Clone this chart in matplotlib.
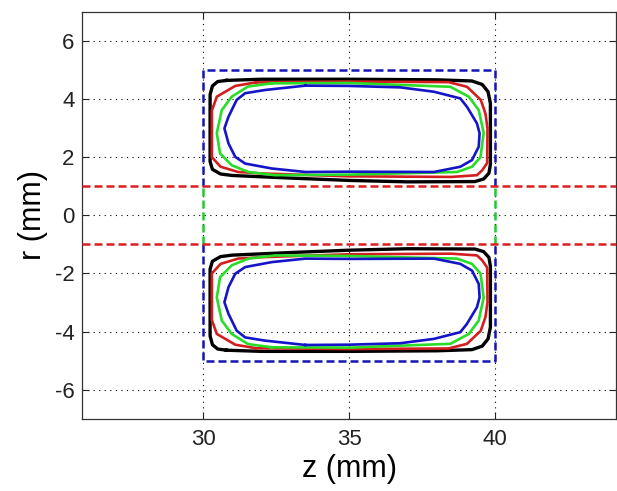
import matplotlib
matplotlib.use("Agg")
import matplotlib.pyplot as plt
import numpy as np

plt.rcParams['font.family'] = ['Liberation Sans', 'DejaVu Sans']
plt.rcParams['axes.unicode_minus'] = False

# upper half outlines (z, r) in mm; the lower half is the mirror image r -> -r
black_z = [30.80, 32.0, 35.0, 38.0, 39.20, 39.55, 39.75, 39.83, 39.83, 39.78, 39.60, 39.30, 37.0, 35.0, 33.0, 31.0, 30.60, 30.32, 30.24, 30.24, 30.32, 30.50, 30.80]
black_r = [4.64, 4.68, 4.68, 4.66, 4.62, 4.50, 4.25, 3.85, 1.75, 1.45, 1.25, 1.16, 1.15, 1.20, 1.28, 1.37, 1.42, 1.58, 1.85, 4.15, 4.45, 4.60, 4.64]

red_z = [31.80, 35.0, 38.40, 39.03, 39.50, 39.66, 39.73, 39.72, 39.55, 39.37, 38.50, 35.0, 32.00, 31.20, 30.60, 30.30, 30.30, 30.47, 31.10, 31.80]
red_r = [4.57, 4.60, 4.58, 4.42, 3.97, 3.50, 3.00, 1.80, 1.55, 1.38, 1.32, 1.34, 1.44, 1.49, 1.67, 2.00, 3.60, 4.08, 4.45, 4.57]

green_z = [32.35, 35.0, 38.46, 39.09, 39.43, 39.60, 39.49, 39.20, 38.69, 35.0, 32.47, 31.55, 30.98, 30.58, 30.47, 30.64, 30.98, 31.54, 32.35]
green_r = [4.54, 4.55, 4.42, 4.08, 3.62, 2.83, 2.00, 1.67, 1.49, 1.40, 1.38, 1.49, 1.72, 2.13, 2.83, 3.62, 4.08, 4.43, 4.54]

blue_z = [33.50, 35.0, 36.75, 37.90, 38.80, 39.03, 39.37, 39.46, 39.43, 39.20, 38.80, 37.90, 35.0, 33.50, 32.35, 31.44, 31.10, 30.87, 30.73, 30.87, 31.15, 31.44, 32.12, 33.50]
blue_r = [4.46, 4.45, 4.40, 4.25, 4.02, 3.73, 3.16, 2.82, 2.36, 1.90, 1.67, 1.49, 1.50, 1.49, 1.61, 1.78, 2.01, 2.47, 2.99, 3.39, 3.97, 4.20, 4.31, 4.46]

# electrode box and aperture limits
box_z = [30.0, 40.0]
box_r = [1.0, 5.0]
aperture_r = 1.0

fig = plt.figure(figsize=(6.17, 4.91), dpi=100)
ax = fig.add_axes([0.133, 0.147, 0.866, 0.829])

dash = (0, (3.2, 1.6))

# blue dashed box, split at the aperture
z0, z1 = box_z
ra, rb = box_r
for s in (1, -1):
    ax.plot([z0, z0, z1, z1], [s * ra, s * rb, s * rb, s * ra], color='#1414b4', lw=1.8, linestyle=dash, zorder=3)
# green dashed aperture sides
for z in box_z:
    ax.plot([z, z], [-aperture_r, aperture_r], color='#22c832', lw=1.8, linestyle=dash, zorder=3)
# red dashed aperture radius
for s in (1, -1):
    ax.axhline(s * aperture_r, color='#dc1e1e', lw=1.8, linestyle=dash, zorder=3)

curves = [(black_z, black_r, 'k', 2.4),
          (red_z, red_r, '#d21e1e', 1.9),
          (green_z, green_r, '#28dc28', 1.9),
          (blue_z, blue_r, '#1414c8', 1.9)]
for zs, rs, c, lw in curves:
    zs = np.array(zs)
    rs = np.array(rs)
    ax.plot(zs, rs, color=c, lw=lw, zorder=4)
    ax.plot(zs, -rs, color=c, lw=lw, zorder=4)

ax.set_xlim(25.86, 44.14)
ax.set_ylim(-7, 7)
ax.set_xticks([30, 35, 40])
ax.set_yticks([-6, -4, -2, 0, 2, 4, 6])
ax.grid(True, color='k', linestyle=(0, (1, 4)), lw=0.8)
ax.set_axisbelow(True)

ax.tick_params(direction='in', length=5, width=0.8, top=True, right=True, labelsize=16, colors='#222222')
ax.tick_params(axis='x', pad=7)
ax.tick_params(axis='y', pad=5.5)
for sp in ax.spines.values():
    sp.set_color('#333333')
    sp.set_linewidth(0.9)

ax.set_xlabel('z (mm)', fontsize=22, labelpad=3)
ax.set_ylabel('r (mm)', fontsize=22, labelpad=5)

fig.savefig('out.png', dpi=100)
